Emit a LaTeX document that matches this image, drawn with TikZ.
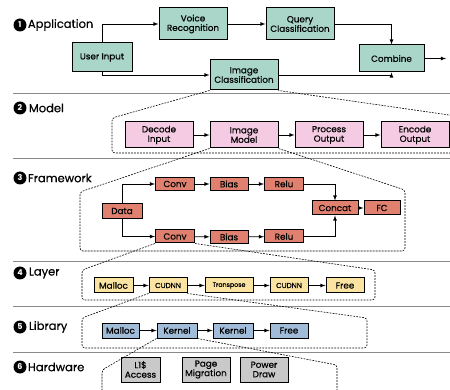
\documentclass[tikz,border=0pt]{standalone}
\usepackage{fontspec}
\setmainfont{Poppins}
\newfontfamily\medfont{Poppins}[FakeBold=0.5]
\usetikzlibrary{positioning}

\definecolor{appcol}{HTML}{A9D6C9}
\definecolor{modelcol}{HTML}{F5CBE3}
\definecolor{fwcol}{HTML}{E0816F}
\definecolor{layercol}{HTML}{FBE3A2}
\definecolor{libcol}{HTML}{A0BCD8}
\definecolor{hwcol}{HTML}{C9C9C9}
\definecolor{sepcol}{HTML}{8A8A8A}

\tikzset{
  blk/.style={draw=black, line width=1pt, align=center, inner sep=0pt, font=\medfont\fontsize{8.8}{9.5}\selectfont},
  arr/.style={-latex, line width=0.8pt},
  zoomline/.style={line width=0.6pt, dash pattern=on 1.8pt off 1.2pt, rounded corners=3pt},
  sepline/.style={sepcol, line width=1pt},
  numdot/.style={circle, fill=black, text=white, inner sep=0pt, minimum size=13pt, font=\bfseries\fontsize{8}{8}\selectfont},
  secname/.style={anchor=west, inner sep=0pt, font=\medfont\fontsize{11.5}{12}\selectfont}
}

\begin{document}
\begin{tikzpicture}[x=1pt, y=-1pt]
\useasboundingbox (0,0) rectangle (450,390);
\clip (0,0) rectangle (450,390);

% section separators
\draw[sepline] (13,94) -- (450,94);
\draw[sepline] (13,159) -- (450,159);
\draw[sepline] (13,262) -- (450,262);
\draw[sepline] (13,306) -- (450,306);
\draw[sepline] (13,352) -- (450,352);

% section titles
\node[numdot] (n1) at (20,25) {1};
\node[secname, right=1pt of n1] (tapp) {Application};
\node[numdot] (n2) at (20,108) {2};
\node[secname, right=2pt of n2] (tmodel) {Model};
\node[numdot] (n3) at (20,178) {3};
\node[secname, right=1pt of n3] (tfw) {Framework};
\node[numdot] (n4) at (20,273) {4};
\node[secname, right=2pt of n4] (tlayer) {Layer};
\node[numdot] (n5) at (20,327) {5};
\node[secname, right=2pt of n5] (tlib) {Library};
\node[numdot] (n6) at (20,367) {6};
\node[secname, right=1pt of n6] (thw) {Hardware};

% application
\node[blk, fill=appcol, minimum width=60pt, minimum height=29pt] (user) at (102,57.5) {User Input};
\node[blk, fill=appcol, minimum width=68pt, minimum height=32pt] (voice) at (193,24) {Voice\\Recognition};
\node[blk, fill=appcol, minimum width=68pt, minimum height=32pt] (query) at (300,24) {Query\\Classification};
\node[blk, fill=appcol, minimum width=65pt, minimum height=27pt] (combine) at (391.5,58.5) {Combine};
\node[blk, fill=appcol, minimum width=68pt, minimum height=30pt] (imgcls) at (244,75) {Image\\Classification};
\coordinate (appout) at (446,58.5);
\draw[arr] (user.north) |- (voice.west);
\draw[arr] (voice) -- (query);
\draw[arr] (query.east) -| (combine.north);
\draw[arr] (user.south) |- (imgcls.west);
\draw[arr] (imgcls.east) -| (combine.south);
\draw[arr] (combine) -- (appout);

% model
\node[blk, fill=modelcol, minimum width=68pt, minimum height=26pt] (decode) at (159,135) {Decode\\Input};
\node[blk, fill=modelcol, minimum width=68pt, minimum height=26pt] (imgmodel) at (244,135) {Image\\Model};
\node[blk, fill=modelcol, minimum width=68pt, minimum height=26pt] (process) at (329,135) {Process\\Output};
\node[blk, fill=modelcol, minimum width=68pt, minimum height=26pt] (encode) at (415,135) {Encode\\Output};
\draw[arr] (decode) -- (imgmodel);
\draw[arr] (imgmodel) -- (process);
\draw[arr] (process) -- (encode);
\draw[zoomline] (imgcls.south west) -- (112,118) -- (112,153) -- (470,153) -- (470,118) -- (imgcls.south east);

% framework
\node[blk, fill=fwcol, minimum width=40pt, minimum height=15pt] (data) at (122,211) {Data};
\node[blk, fill=fwcol, minimum width=39pt, minimum height=13pt] (conva) at (175,184) {Conv};
\node[blk, fill=fwcol, minimum width=38pt, minimum height=13pt] (biasa) at (229,184) {Bias};
\node[blk, fill=fwcol, minimum width=39pt, minimum height=13pt] (relua) at (284,184) {Relu};
\node[blk, fill=fwcol, minimum width=39pt, minimum height=13pt] (convb) at (175,236.5) {Conv};
\node[blk, fill=fwcol, minimum width=38pt, minimum height=13pt] (biasb) at (229,237) {Bias};
\node[blk, fill=fwcol, minimum width=39pt, minimum height=13pt] (relub) at (284,236.5) {Relu};
\node[blk, fill=fwcol, minimum width=46pt, minimum height=14pt] (concat) at (335,208) {Concat};
\node[blk, fill=fwcol, minimum width=36pt, minimum height=14pt] (fc) at (382,208) {FC};
\draw[arr] (data.north) |- (conva.west);
\draw[arr] (data.south) |- (convb.west);
\draw[arr] (conva) -- (biasa);
\draw[arr] (biasa) -- (relua);
\draw[arr] (convb) -- (biasb);
\draw[arr] (biasb) -- (relub);
\draw[arr] (relua.east) -| (concat.north);
\draw[arr] (relub.east) -| (concat.south);
\draw[arr] (concat) -- (fc);
\draw[zoomline] (imgmodel.south west) -- (80,192) -- (80,251) -- (405,251) -- (405,190) -- (imgmodel.south east);

% layer
\node[blk, fill=layercol, minimum width=39pt, minimum height=15pt] (malloc) at (113.5,285.5) {Malloc};
\node[blk, fill=layercol, minimum width=38pt, minimum height=15pt, font=\medfont\fontsize{7.2}{7.5}\selectfont] (cudnna) at (168,285.5) {CUDNN};
\node[blk, fill=layercol, minimum width=48pt, minimum height=15pt, font=\medfont\fontsize{6.3}{7}\selectfont] (transpose) at (229,285.5) {Transpose};
\node[blk, fill=layercol, minimum width=38pt, minimum height=15pt, font=\medfont\fontsize{7.2}{7.5}\selectfont] (cudnnb) at (289,285.5) {CUDNN};
\node[blk, fill=layercol, minimum width=38pt, minimum height=15pt] (free) at (345,285.5) {Free};
\draw[arr] (malloc) -- (cudnna);
\draw[arr] (cudnna) -- (transpose);
\draw[arr] (transpose) -- (cudnnb);
\draw[arr] (cudnnb) -- (free);
\draw[zoomline] (convb.south west) -- (82,270) -- (82,300) -- (375,300) -- (375,270) -- (convb.south east);

% library
\node[blk, fill=libcol, minimum width=37pt, minimum height=15pt] (lmalloc) at (120.5,330.5) {Malloc};
\node[blk, fill=libcol, minimum width=40pt, minimum height=15pt] (kerna) at (177,330.5) {Kernel};
\node[blk, fill=libcol, minimum width=40pt, minimum height=15pt] (kernb) at (233,330.5) {Kernel};
\node[blk, fill=libcol, minimum width=38pt, minimum height=15pt] (lfree) at (289,330.5) {Free};
\draw[arr] (lmalloc) -- (kerna);
\draw[arr] (kerna) -- (kernb);
\draw[arr] (kernb) -- (lfree);
\draw[zoomline] (cudnna.south west) -- (82,318) -- (82,348) -- (367,348) -- (367,318) -- (cudnna.south east);

% hardware
\node[blk, fill=hwcol, minimum width=39pt, minimum height=25pt] (lone) at (140.5,369.5) {L1\$\\Access};
\node[blk, fill=hwcol, minimum width=48pt, minimum height=25pt] (pagemig) at (206,369.5) {Page\\Migration};
\node[blk, fill=hwcol, minimum width=48pt, minimum height=25pt] (power) at (264,369.5) {Power\\Draw};
\draw[zoomline] (kerna.south west) -- (102,370) -- (102,395);
\draw[zoomline] (kerna.south east) -- (337,365) -- (337,395);

\end{tikzpicture}
\end{document}
